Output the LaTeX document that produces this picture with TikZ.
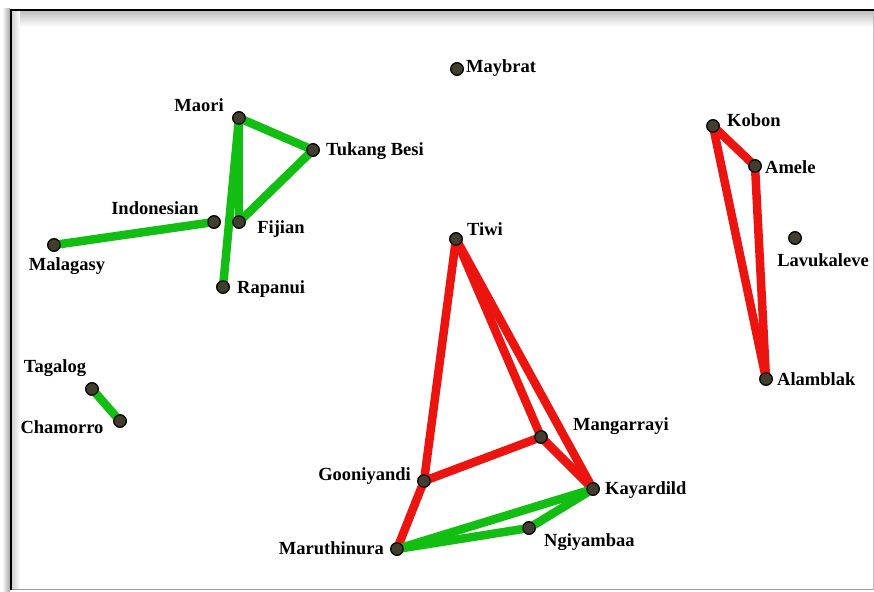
\documentclass[tikz,border=0pt]{standalone}
\usepackage{fontspec}
\setmainfont{Liberation Serif}
\begin{document}
\begin{tikzpicture}[x=1pt,y=-1pt,
  dot/.style={circle,draw=black,line width=1.1pt,fill=dotfill,inner sep=0pt,minimum size=12.5pt},
  lbl/.style={font=\fontsize{18.5}{20}\selectfont\bfseries,inner sep=0pt,text=black},
  gl/.style={draw=linkgreen,line width=8.5pt},
  rl/.style={draw=linkred,line width=8.5pt}]
\definecolor{dotfill}{RGB}{66,62,46}
\definecolor{linkgreen}{RGB}{18,190,18}
\definecolor{linkred}{RGB}{236,20,14}
\useasboundingbox (0,0) rectangle (874,591);
% window frame with soft shadow
\fill[white] (0,0) rectangle (874,591);
\shade[top color=black!25,bottom color=white] (11,11) rectangle (873,27);
\shade[left color=white,right color=black!35] (2,9) rectangle (10,591);
\shade[left color=black!18,right color=white] (12,11) rectangle (20,589);
\draw[black!40,line width=1pt] (11,589.5) -- (873,589.5);
\draw[black!25,line width=1pt] (873,10) -- (873,589.5);
\draw[black,line width=2pt] (11,590) -- (11,10) -- (874,10);
% language points
\node[dot] (maybrat) at (457,69) {};
\node[dot] (maori) at (239,118) {};
\node[dot] (tukang) at (313,150) {};
\node[dot] (indonesian) at (214,222) {};
\node[dot] (fijian) at (239,222) {};
\node[dot] (malagasy) at (54,245) {};
\node[dot] (rapanui) at (223,287) {};
\node[dot] (tagalog) at (92,389) {};
\node[dot] (chamorro) at (120,421) {};
\node[dot] (tiwi) at (456,239) {};
\node[dot] (kobon) at (713,126) {};
\node[dot] (amele) at (755,166) {};
\node[dot] (lavukaleve) at (795,238) {};
\node[dot] (alamblak) at (766,379) {};
\node[dot] (mangarrayi) at (541,437) {};
\node[dot] (gooniyandi) at (424,481) {};
\node[dot] (kayardild) at (593,489) {};
\node[dot] (ngiyambaa) at (529,528) {};
\node[dot] (maruthinura) at (397,549) {};
% links between related languages
\draw[gl] (maori.center) -- (tukang.center);
\draw[gl] (maori.center) -- (fijian.center);
\draw[gl] (tukang.center) -- (fijian.center);
\draw[gl] (maori.center) -- (rapanui.center);
\draw[gl] (indonesian.center) -- (malagasy.center);
\draw[gl] (tagalog.center) -- (chamorro.center);
\draw[rl] (tiwi.center) -- (gooniyandi.center);
\draw[rl] (tiwi.center) -- (mangarrayi.center);
\draw[rl] (tiwi.center) -- (kayardild.center);
\draw[rl] (mangarrayi.center) -- (kayardild.center);
\draw[rl] (gooniyandi.center) -- (mangarrayi.center);
\draw[rl] (gooniyandi.center) -- (maruthinura.center);
\draw[gl] (maruthinura.center) -- (kayardild.center);
\draw[gl] (maruthinura.center) -- (ngiyambaa.center);
\draw[gl] (ngiyambaa.center) -- (kayardild.center);
\draw[rl] (kobon.center) -- (amele.center);
\draw[rl] (kobon.center) -- (alamblak.center);
\draw[rl] (amele.center) -- (alamblak.center);
% redraw points above the links
\foreach \n in {maybrat,maori,tukang,indonesian,fijian,malagasy,rapanui,tagalog,chamorro,tiwi,kobon,amele,lavukaleve,alamblak,mangarrayi,gooniyandi,kayardild,ngiyambaa,maruthinura}
  \draw[black,line width=1.1pt,fill=dotfill] (\n.center) circle (6.2pt);
% labels
\node[lbl,anchor=west] (tMaybrat) at (466,68) {Maybrat};
\node[lbl] (tMaori) at (199,105) {Maori};
\node[lbl,anchor=west] (tTukang) at (326,151) {Tukang Besi};
\node[lbl] (tIndonesian) at (155,208) {Indonesian};
\node[lbl] (tFijian) at (281,229) {Fijian};
\node[lbl] (tMalagasy) at (67,266) {Malagasy};
\node[lbl,anchor=west] (tRapanui) at (237,289) {Rapanui};
\node[lbl] (tTagalog) at (55,368) {Tagalog};
\node[lbl] (tChamorro) at (62,427) {Chamorro};
\node[lbl] (tTiwi) at (485,229) {Tiwi};
\node[lbl,anchor=west] (tKobon) at (727,120) {Kobon};
\node[lbl,anchor=west] (tAmele) at (765,167) {Amele};
\node[lbl] (tLavukaleve) at (823,260) {Lavukaleve};
\node[lbl,anchor=west] (tAlamblak) at (777,379) {Alamblak};
\node[lbl,anchor=west] (tMangarrayi) at (573,426) {Mangarrayi};
\node[lbl,anchor=east] (tGooniyandi) at (411,476) {Gooniyandi};
\node[lbl,anchor=west] (tKayardild) at (605,490) {Kayardild};
\node[lbl,anchor=west] (tNgiyambaa) at (544,542) {Ngiyambaa};
\node[lbl,anchor=east] (tMaruthinura) at (384,548) {Maruthinura};
\end{tikzpicture}
\end{document}
